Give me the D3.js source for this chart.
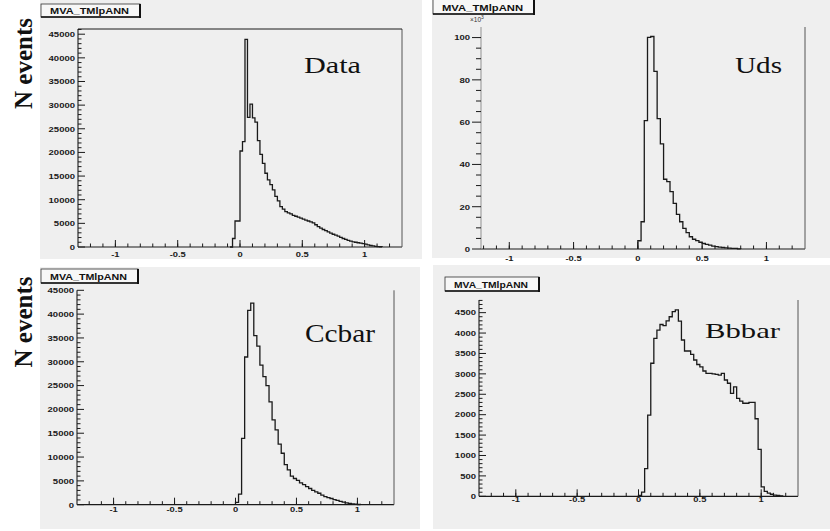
<!DOCTYPE html>
<html><head><meta charset="utf-8">
<script src="https://cdn.jsdelivr.net/npm/d3@7"></script>
<style>html,body{margin:0;padding:0;background:#fff;}svg{display:block;}</style>
</head><body>
<script>
// ---- data ----
const panelNames = ["Data", "Uds", "Ccbar", "Bbbar"];
const histTitle = "MVA_TMlpANN";
const yAxisTitle = "N events";
const xTickValues = [-1, -0.5, 0, 0.5, 1];
const xTickLabels = ["-1", "-0.5", "0", "0.5", "1"];

const dataStart = -0.08, dataWidth = 0.02;
const dataValues = [0, 1800, 5500, 5500, 20300, 22300, 43900, 27400, 30200, 27300, 26400, 22500,
  19600, 17700, 15600, 14200, 13200, 12100, 10700, 9750, 8550, 8000, 7500, 7200, 7000, 6700,
  6500, 6300, 6100, 5900, 5700, 5500, 5300, 5100, 4700, 4300, 4000, 3700, 3450, 3200, 2950,
  2700, 2500, 2300, 2050, 1800, 1600, 1400, 1250, 1100, 1000, 900, 800, 700, 600, 450, 320,
  230, 150, 100, 50];

const udsStart = 0, udsWidth = 0.025; // in units of 10^3
const udsValues = [3.9, 12.9, 60.7, 100.1, 100.5, 84, 61.7, 49.7, 33, 31.9, 27.1, 21.6, 16.4,
  12.9, 9.8, 7.7, 5.8, 4.6, 4.0, 3.2, 2.6, 2.2, 1.8, 1.4, 1.1, 0.9, 0.7, 0.5, 0.4, 0.3, 0.3, 0.1];

const ccStart = 0, ccWidth = 0.025;
const ccValues = [500, 2200, 13900, 31000, 40800, 42300, 35500, 33300, 29300, 26900, 25000,
  21600, 17800, 15700, 12700, 10800, 8400, 7300, 6000, 5500, 5100, 4600, 4200, 3800, 3400,
  3000, 2700, 2400, 2000, 1700, 1500, 1300, 1050, 900, 700, 550, 400, 280, 180, 100, 40];

const bbStart = 0, bbWidth = 0.025;
const bbValues = [20, 100, 680, 1990, 3260, 3870, 4070, 4210, 4180, 4300, 4400, 4525, 4570,
  4290, 3830, 3560, 3560, 3480, 3340, 3230, 3170, 3070, 3010, 3010, 3000, 2990, 2970, 3010,
  2850, 2770, 2520, 2680, 2400, 2330, 2280, 2280, 2300, 2300, 1900, 1150, 230, 120, 80, 50,
  30, 20, 10];

// ---- layout ----
const panels = [
  {name: panelNames[0], vals: dataValues, start: dataStart, w: dataWidth,
   bg: [40, 0, 382, 259], xr: [78, 402], yr: [247, 29], ymax: 46100, major: 5000, minor: 1000,
   tickOut: false, topLine: true, box: [41, 4, 99, 13], xlabY: 257,
   lab: {x: 304, y: 73, fs: 24, len: 57}, nev: 63.5},
  {name: panelNames[1], vals: udsValues, start: udsStart, w: udsWidth,
   bg: [432, 0, 398, 258], xr: [481, 805], yr: [249, 27], ymax: 105, major: 20, minor: 5,
   tickOut: true, topLine: false, box: [433, -1, 101, 15], xlabY: 261, exp: true,
   xdom: [-1.22, 1.3], lab: {x: 735, y: 73, fs: 23, len: 47}},
  {name: panelNames[2], vals: ccValues, start: ccStart, w: ccWidth,
   bg: [40, 267, 380, 262], xr: [77, 394], yr: [504.7, 290.3], ymax: 45000, major: 5000, minor: 1000,
   tickOut: false, topLine: false, box: [41, 269, 97, 14], xlabY: 512,
   lab: {x: 305, y: 342, fs: 25, len: 70}, nev: 322},
  {name: panelNames[3], vals: bbValues, start: bbStart, w: bbWidth,
   bg: [433, 265, 397, 264], xr: [479, 798], yr: [496.3, 300], ymax: 4810, major: 500, minor: 100,
   tickOut: false, topLine: false, box: [445, 277, 94, 14], xlabY: 502,
   lab: {x: 705, y: 338, fs: 22, len: 75}}
];

const svg = d3.select("body").append("svg").attr("width", 830).attr("height", 531);
svg.append("rect").attr("width", 830).attr("height", 531).attr("fill", "#fff");

const sans = "'Liberation Sans', Arial, sans-serif";
const serif = "'Liberation Serif', 'Times New Roman', serif";
const ink = "#1a1a1a";

panels.forEach(p => {
  const g = svg.append("g");
  g.append("rect").attr("x", p.bg[0]).attr("y", p.bg[1]).attr("width", p.bg[2]).attr("height", p.bg[3])
    .attr("fill", "#efefef");

  const x = d3.scaleLinear().domain(p.xdom || [-1.3, 1.3]).range(p.xr);
  const y = d3.scaleLinear().domain([0, p.ymax]).range(p.yr);
  const x0 = p.xr[0], x1 = p.xr[1], y0 = p.yr[0], y1 = p.yr[1];

  // frame
  g.append("line").attr("x1", x0).attr("x2", x1).attr("y1", y0).attr("y2", y0).attr("stroke", ink).attr("stroke-width", 1.2);
  g.append("line").attr("x1", x0).attr("x2", x0).attr("y1", y0).attr("y2", y1).attr("stroke", p.tickOut ? "#999" : ink).attr("stroke-width", 1.1);
  g.append("line").attr("x1", x1).attr("x2", x1).attr("y1", y0).attr("y2", y1).attr("stroke", "#555").attr("stroke-width", 1);
  if (p.topLine) g.append("line").attr("x1", x0).attr("x2", x1).attr("y1", y1).attr("y2", y1).attr("stroke", ink).attr("stroke-width", 1);

  // x ticks
  const xMinor = d3.range(-12, 13).map(d => d / 10).filter(d => x(d) > x0 + 1 && x(d) < x1 - 1);
  g.selectAll(null).data(xMinor).enter().append("line")
    .attr("x1", d => x(d)).attr("x2", d => x(d)).attr("y1", y0).attr("y2", y0 - 3.5)
    .attr("stroke", ink).attr("stroke-width", 1);
  g.selectAll(null).data(xTickValues).enter().append("line")
    .attr("x1", d => x(d)).attr("x2", d => x(d)).attr("y1", y0).attr("y2", y0 - 7)
    .attr("stroke", ink).attr("stroke-width", 1);
  g.selectAll(null).data(xTickValues).enter().append("text")
    .attr("transform", d => `translate(${x(d)},${p.xlabY}) scale(1.2,1)`)
    .attr("text-anchor", "middle").attr("font-family", sans).attr("font-weight", "bold")
    .attr("font-size", 7.8).attr("fill", ink).text((d, i) => xTickLabels[i]);

  // y ticks
  const dir = p.tickOut ? -1 : 1;
  const yMajor = d3.range(0, p.ymax + 1e-9, p.major);
  const yMinor = d3.range(0, p.ymax, p.minor).filter(v => Math.abs(v / p.major - Math.round(v / p.major)) > 1e-6);
  g.selectAll(null).data(yMinor).enter().append("line")
    .attr("x1", x0).attr("x2", x0 + dir * (p.tickOut ? 5 : 3.5)).attr("y1", d => y(d)).attr("y2", d => y(d))
    .attr("stroke", ink).attr("stroke-width", 1);
  g.selectAll(null).data(yMajor).enter().append("line")
    .attr("x1", x0).attr("x2", x0 + dir * (p.tickOut ? 9 : 7)).attr("y1", d => y(d)).attr("y2", d => y(d))
    .attr("stroke", ink).attr("stroke-width", 1);
  const labX = p.tickOut ? x0 - 11 : x0 - 3;
  g.selectAll(null).data(yMajor).enter().append("text")
    .attr("transform", d => `translate(${labX},${y(d) + 2.8}) scale(1.22,1)`)
    .attr("text-anchor", "end").attr("font-family", sans).attr("font-weight", "bold")
    .attr("font-size", 7.8).attr("fill", ink).text(d => d3.format("d")(d));

  if (p.exp) {
    const t = g.append("text").attr("x", x0 - 11).attr("y", y1 - 5).attr("font-family", sans)
      .attr("font-size", 6.5).attr("fill", "#333");
    t.append("tspan").text("\u00d710");
    t.append("tspan").attr("dy", -3).attr("font-size", 5).text("3");
  }

  // histogram (step line)
  const pts = [[x(p.start), y(0)]];
  p.vals.forEach((v, i) => {
    const lo = p.start + i * p.w, hi = lo + p.w;
    pts.push([x(lo), y(v)], [x(hi), y(v)]);
  });
  pts.push([x(p.start + p.vals.length * p.w), y(0)]);
  g.append("path").attr("d", d3.line()(pts)).attr("fill", "none")
    .attr("stroke", ink).attr("stroke-width", 1.3);

  // title box
  const b = p.box;
  g.append("rect").attr("x", b[0]).attr("y", b[1]).attr("width", b[2]).attr("height", b[3])
    .attr("fill", "#f7f7f7").attr("stroke", "#333").attr("stroke-width", 0.8);
  g.append("line").attr("x1", b[0] + b[2]).attr("x2", b[0] + b[2]).attr("y1", b[1]).attr("y2", b[1] + b[3] + 1)
    .attr("stroke", "#111").attr("stroke-width", 2);
  g.append("line").attr("x1", b[0]).attr("x2", b[0] + b[2]).attr("y1", b[1] + b[3]).attr("y2", b[1] + b[3])
    .attr("stroke", "#111").attr("stroke-width", 1.4);
  g.append("text").attr("x", b[0] + 9).attr("y", b[1] + b[3] - 3.3).attr("font-family", sans)
    .attr("font-weight", "bold").attr("font-size", 9).attr("fill", "#111")
    .attr("textLength", b[2] - 20).attr("lengthAdjust", "spacingAndGlyphs").text(histTitle);

  // panel label
  g.append("text").attr("x", p.lab.x).attr("y", p.lab.y).attr("font-family", serif)
    .attr("font-size", p.lab.fs).attr("fill", "#111")
    .attr("textLength", p.lab.len).attr("lengthAdjust", "spacingAndGlyphs").text(p.name);

  if (p.nev !== undefined) {
    svg.append("text").attr("transform", `translate(32,${p.nev}) rotate(-90)`)
      .attr("text-anchor", "middle").attr("font-family", serif).attr("font-weight", "bold")
      .attr("font-size", 25).attr("fill", "#111").text(yAxisTitle);
  }
});
</script>
</body></html>
